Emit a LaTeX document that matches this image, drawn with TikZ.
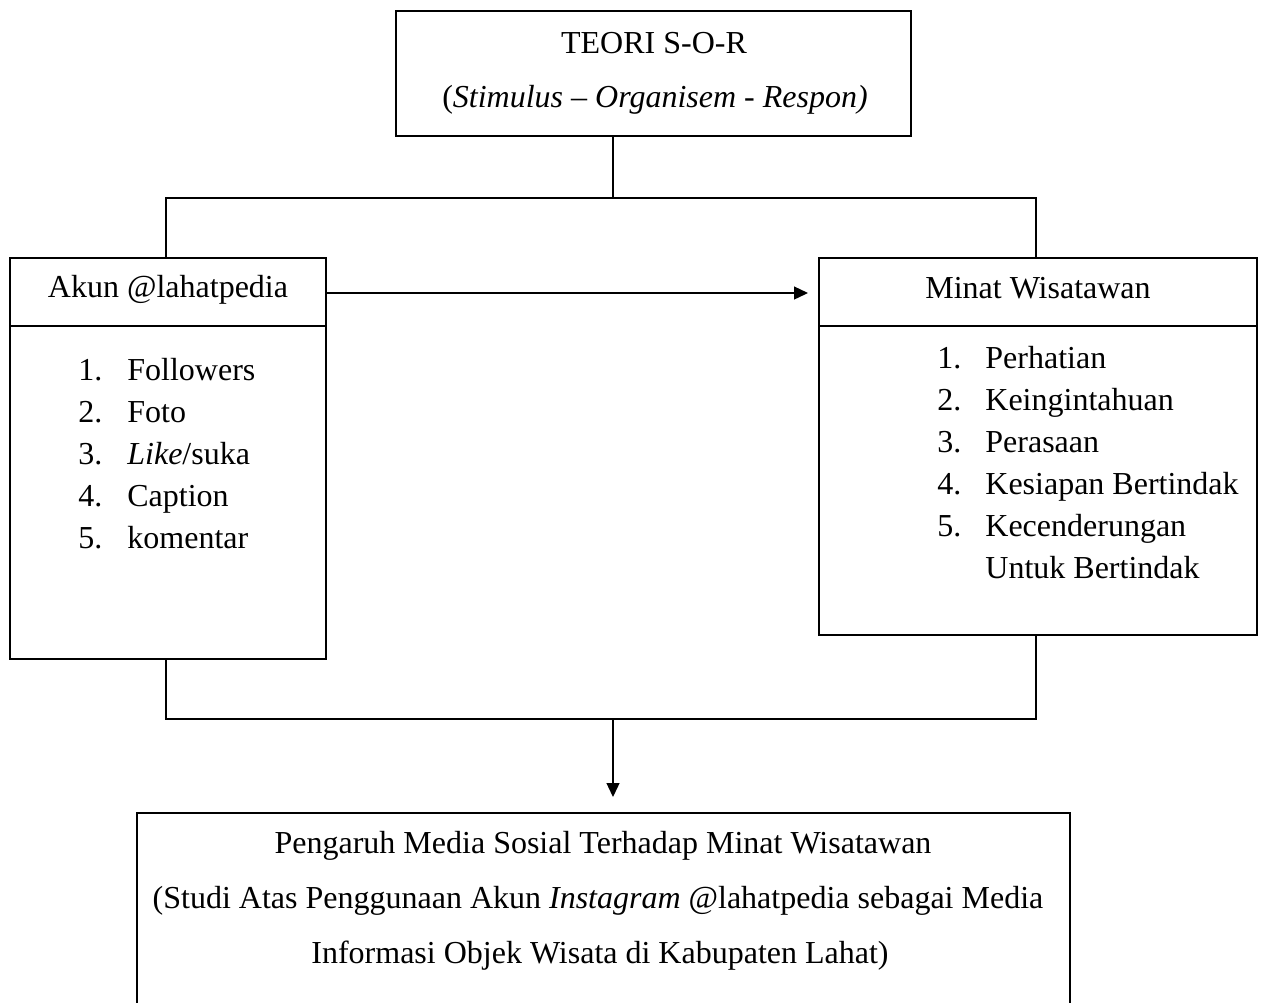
\documentclass[tikz,border=0pt]{standalone}
\usepackage{fontspec}
\setmainfont{Liberation Serif}
\usetikzlibrary{arrows.meta,fit}
\begin{document}
\begin{tikzpicture}[x=0.5pt,y=-0.5pt, font=\fontsize{16}{20}\selectfont,
  box/.style={draw, line width=0.65pt, inner sep=0pt},
  conn/.style={line width=0.65pt},
  arr/.style={conn, -{Triangle[length=7pt,width=6.5pt]}},
  txt/.style={anchor=base, inner sep=0pt},
  item/.style={anchor=base west, inner sep=0pt}]
\clip (0,0) rectangle (1264,1002);
\fill[white] (0,0) rectangle (1264,1002);

% top box
\node[box, fit={(396,11) (911,136)}] (top) {};
\node[txt] (topA) at (654,53) {TEORI S-O-R};
\node[txt] (topB) at (655,107) {(\textit{Stimulus – Organisem - Respon)}};

% left box
\node[box, fit={(10,258) (326,659)}] (akun) {};
\coordinate (dv) at (0,326);
\draw[conn] (akun.west |- dv) -- (akun.east |- dv);
\node[txt] (akunH) at (168,297) {Akun @lahatpedia};
\node[item] (a1n) at (78,380) {1.};
\node[item] (a1) at (127,380) {Followers};
\node[item] (a2n) at (78,422) {2.};
\node[item] (a2) at (127,422) {Foto};
\node[item] (a3n) at (78,464) {3.};
\node[item] (a3) at (127,464) {\textit{Like}/suka};
\node[item] (a4n) at (78,506) {4.};
\node[item] (a4) at (127,506) {Caption};
\node[item] (a5n) at (78,548) {5.};
\node[item] (a5) at (127,548) {komentar};

% right box
\node[box, fit={(819,258) (1257,635)}] (minat) {};
\draw[conn] (minat.west |- dv) -- (minat.east |- dv);
\node[txt] (minatH) at (1038,298) {Minat Wisatawan};
\node[item] (m1n) at (937,368) {1.};
\node[item] (m1) at (985,368) {Perhatian};
\node[item] (m2n) at (937,410) {2.};
\node[item] (m2) at (985,410) {Keingintahuan};
\node[item] (m3n) at (937,452) {3.};
\node[item] (m3) at (985,452) {Perasaan};
\node[item] (m4n) at (937,494) {4.};
\node[item] (m4) at (985,494) {Kesiapan Bertindak};
\node[item] (m5n) at (937,536) {5.};
\node[item] (m5) at (985,536) {Kecenderungan};
\node[item] (m6) at (985,578) {Untuk Bertindak};

% bottom box
\node[box, fit={(137,813) (1070,1020)}] (hasil) {};
\node[txt] (h1) at (603,853) {Pengaruh Media Sosial Terhadap Minat Wisatawan};
\node[txt] (h2) at (598,908) {(Studi Atas Penggunaan Akun \textit{Instagram} @lahatpedia sebagai Media};
\node[txt] (h3) at (600,963) {Informasi Objek Wisata di Kabupaten Lahat)};

% connectors
\coordinate (jT) at (613,198);
\coordinate (jL) at (166,198);
\coordinate (jR) at (1036,198);
\draw[conn] (jT |- top.south) -- (jT);
\draw[conn] (jL |- akun.north) -- (jL) -- (jR) -- (jR |- minat.north);

\coordinate (aE) at (808,293);
\draw[arr] (akun.east |- aE) -- (aE);

\coordinate (bL) at (166,719);
\coordinate (bR) at (1036,719);
\coordinate (bM) at (613,719);
\coordinate (bT) at (613,797);
\draw[conn] (jL |- akun.south) -- (bL) -- (bR) -- (jR |- minat.south);
\draw[arr] (bM) -- (bT);
\end{tikzpicture}
\end{document}
